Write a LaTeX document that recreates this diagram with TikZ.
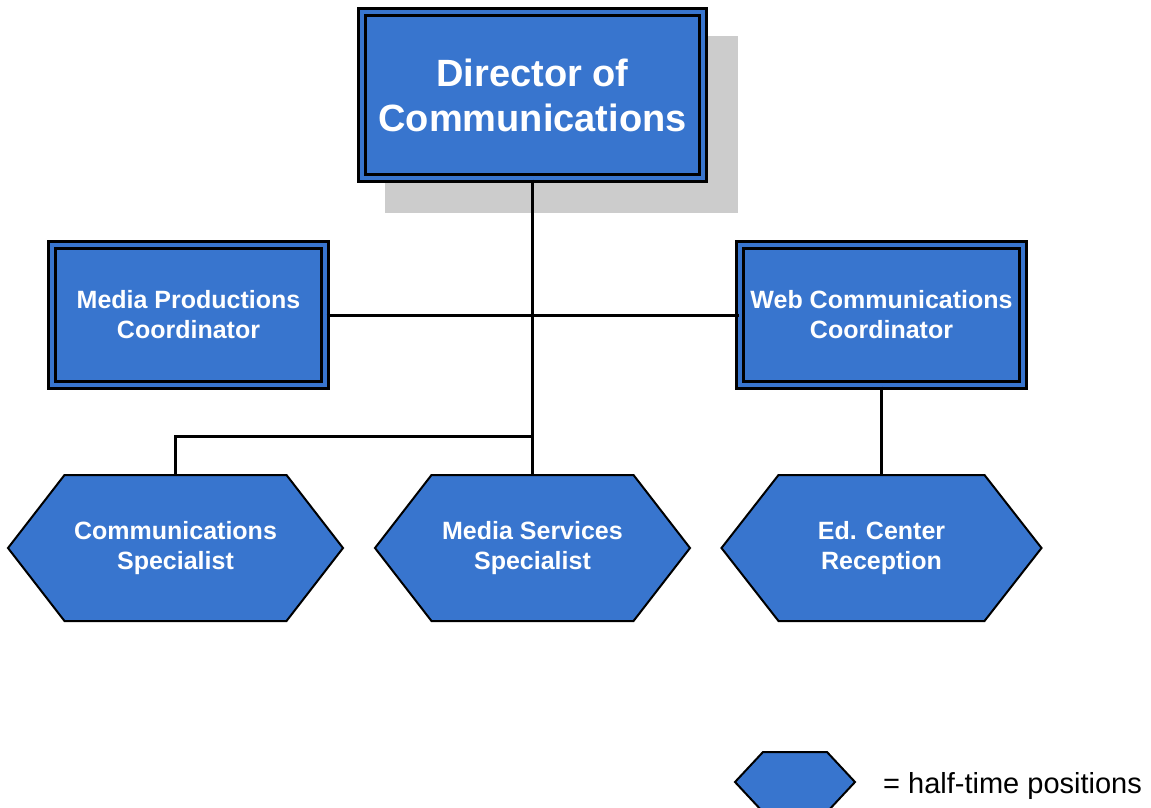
\documentclass[tikz,border=0pt]{standalone}
\usepackage{fontspec}
\setmainfont{Liberation Sans}
\usetikzlibrary{backgrounds}
\definecolor{postblue}{RGB}{56,117,206}
\definecolor{shadowgray}{RGB}{204,204,204}
\tikzstyle{postbox}=[rectangle,fill=postblue,draw=black,line width=3pt,double=postblue,double distance=4pt,text=white,align=center,inner sep=0pt,font=\bfseries\fontsize{25}{30}\selectfont]
\tikzstyle{halfbox}=[rectangle,text=white,align=center,inner sep=0pt,outer sep=0pt,minimum height=146pt,font=\bfseries\fontsize{25}{30}\selectfont]
\tikzstyle{hexline}=[fill=postblue,draw=black,line width=2pt,line join=miter]
\tikzstyle{link}=[line width=3pt]
% hexagon round a named node: #1 node, #2 size of the cut corners
\newcommand{\hexoutline}[2]{%
\draw[hexline] (#1.west) -- ([xshift=#2]#1.north west) -- ([xshift=-#2]#1.north east)
  -- (#1.east) -- ([xshift=-#2]#1.south east) -- ([xshift=#2]#1.south west) -- cycle;}

\begin{document}
\begin{tikzpicture}[x=1pt,y=-1pt]
\useasboundingbox (0, 0) rectangle (1151, 807);
\fill[shadowgray] (385, 36) rectangle (738, 213);
\node[postbox,minimum width=341pt,minimum height=166pt,font=\bfseries\fontsize{38}{45}\selectfont] at (532.5, 95) (dir) {Director of\\Communications};
\node[postbox,minimum width=273pt,minimum height=140pt] at (188.5, 315) (mp) {Media Productions\\Coordinator};
\node[postbox,minimum width=283pt,minimum height=140pt] at (881.5, 315) (wc) {Web Communications\\Coordinator};
\node[halfbox,minimum width=335pt] at (175.5, 548) (cs) {Communications\\Specialist};
\node[halfbox,minimum width=315pt] at (532.5, 548) (ms) {Media Services\\Specialist};
\node[halfbox,minimum width=320pt] at (881.5, 548) (ec) {Ed. Center\\Reception};
\begin{pgfonlayer}{background}
\hexoutline{cs}{56.5pt}
\hexoutline{ms}{56.5pt}
\hexoutline{ec}{57pt}
\end{pgfonlayer}
\coordinate (split) at (532.5, 436);
\draw[link] (dir) -- (ms);
\draw[link] (mp) -- (wc);
\draw[link] (split) -| (cs);
\draw[link] (wc) -- (ec);
% legend
\node[halfbox,minimum width=120pt,minimum height=60pt] at (795, 782) (key) {};
\begin{pgfonlayer}{background}
\hexoutline{key}{28pt}
\end{pgfonlayer}
\node[anchor=base west,inner sep=0pt,font=\fontsize{29}{34}\selectfont] at (883, 793) (keytext) {= half-time positions};
\end{tikzpicture}
\end{document}
